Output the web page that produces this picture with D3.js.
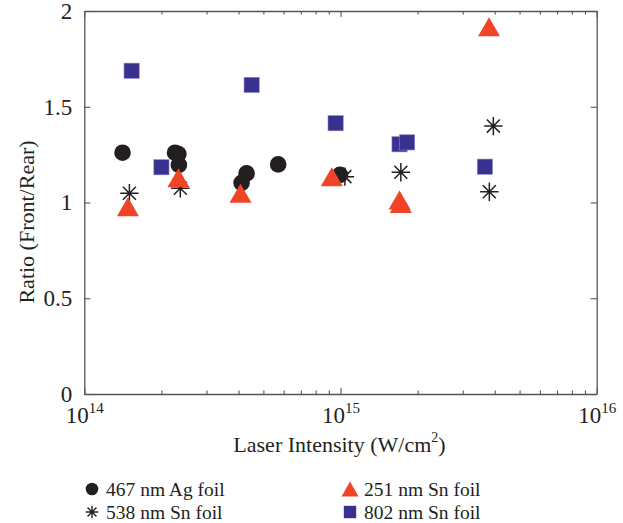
<!DOCTYPE html>
<html><head><meta charset="utf-8">
<script src="https://cdn.jsdelivr.net/npm/d3@7"></script>
<style>
body{margin:0;background:#fff}
svg{display:block}
text{font-family:"Liberation Serif","DejaVu Serif",serif;fill:#231f20}
</style>
</head><body>
<svg id="c" width="623" height="523"></svg>
<script>
// ---- data ----
const agIntensity   = [1.41e14, 2.26e14, 2.33e14, 2.34e14, 4.30e14, 4.11e14, 5.71e14, 9.95e14];
const agRatio       = [1.260, 1.260, 1.253, 1.196, 1.152, 1.103, 1.199, 1.144];
const sn538Intensity = [1.50e14, 2.37e14, 1.04e15, 1.72e15, 3.95e15, 3.81e15];
const sn538Ratio     = [1.048, 1.074, 1.135, 1.158, 1.399, 1.056];
const sn251Intensity = [1.48e14, 2.33e14, 4.07e14, 9.25e14, 1.70e15, 1.72e15, 3.80e15];
const sn251Ratio     = [0.978, 1.129, 1.048, 1.135, 1.013, 0.995, 1.918];
const sn802Intensity = [1.53e14, 2.00e14, 4.50e14, 9.57e14, 1.70e15, 1.82e15, 3.66e15];
const sn802Ratio     = [1.688, 1.184, 1.614, 1.414, 1.304, 1.314, 1.187];

const xMajorTicks = [1e14, 1e15, 1e16];
const xTickExp = ["14", "15", "16"];
const yTicks = [0, 0.5, 1, 1.5, 2];
const legendLabels = ["467 nm Ag foil", "538 nm Sn foil", "251 nm Sn foil", "802 nm Sn foil"];
const xLabel = "Laser Intensity (W/cm";
const yLabel = "Ratio (Front/Rear)";

// ---- layout ----
const L = 84.3, R = 596.7, T = 11, B = 394;
const COL = {ag:"#231f20", star:"#231f20", tri:"#ef4426", sq:"#38318f", axis:"#555555"};
const FONT_TICK = 23, FONT_LAB = 22, FONT_LEG = 19.5;

const svg = d3.select("#c");
const x = d3.scaleLog().domain([1e14, 1e16]).range([L, R]);
const y = d3.scaleLinear().domain([0, 2]).range([B, T]);

const minorTicks = [];
[1e14, 1e15].forEach(d => { for (let k = 2; k <= 9; k++) minorTicks.push(d * k); });

// ---- axes (box with inward ticks) ----
function styleAxis(g){
  g.selectAll(".domain").attr("stroke", COL.axis).attr("stroke-width", 1.3);
  g.selectAll(".tick line").attr("stroke", COL.axis).attr("stroke-width", 1.1);
}
// bottom
const gxB = svg.append("g").attr("transform", `translate(0,${B})`)
  .call(d3.axisBottom(x).tickValues(xMajorTicks).tickSizeInner(-6).tickSizeOuter(0).tickPadding(13));
styleAxis(gxB);
gxB.selectAll(".tick text").each(function(d, i){
  const t = d3.select(this).text(null).attr("font-size", FONT_TICK).attr("fill", "#231f20");
  t.append("tspan").text("10");
  t.append("tspan").attr("font-size", 15).attr("dy", -10).text(xTickExp[i]);
});
svg.append("g").attr("transform", `translate(0,${B})`)
  .call(d3.axisBottom(x).tickValues(minorTicks).tickSizeInner(-3.5).tickSizeOuter(0).tickFormat(""))
  .call(g => { g.select(".domain").remove(); styleAxis(g); });
// top
const gxT = svg.append("g").attr("transform", `translate(0,${T})`)
  .call(d3.axisTop(x).tickValues(xMajorTicks).tickSizeInner(-6).tickSizeOuter(0).tickFormat(""));
styleAxis(gxT);
svg.append("g").attr("transform", `translate(0,${T})`)
  .call(d3.axisTop(x).tickValues(minorTicks).tickSizeInner(-3.5).tickSizeOuter(0).tickFormat(""))
  .call(g => { g.select(".domain").remove(); styleAxis(g); });
// left
const gyL = svg.append("g").attr("transform", `translate(${L},0)`)
  .call(d3.axisLeft(y).tickValues(yTicks).tickSizeInner(-6).tickSizeOuter(0).tickPadding(12).tickFormat(d3.format("~g")));
styleAxis(gyL);
gyL.selectAll(".tick text").attr("font-size", FONT_TICK).attr("fill", "#231f20").attr("font-family", "Liberation Serif");
// right
const gyR = svg.append("g").attr("transform", `translate(${R},0)`)
  .call(d3.axisRight(y).tickValues(yTicks).tickSizeInner(-6).tickSizeOuter(0).tickFormat(""));
styleAxis(gyR);

// ---- axis labels ----
const xl = svg.append("text").attr("x", (L + R) / 2 - 1).attr("y", 452)
  .attr("text-anchor", "middle").attr("font-size", FONT_LAB);
xl.append("tspan").text(xLabel);
xl.append("tspan").attr("font-size", 14).attr("dy", -10).text("2");
xl.append("tspan").attr("dy", 10).text(")");

svg.append("text").attr("transform", `translate(34,222) rotate(-90)`)
  .attr("text-anchor", "middle").attr("font-size", FONT_LAB).text(yLabel);

// ---- marker shapes ----
function triPath(w, h){ return `M0,${-h/2}L${w/2},${h/2}L${-w/2},${h/2}Z`; }
function starPath(r){
  const d = r * Math.SQRT1_2;
  return `M${-r},0L${r},0M0,${-r}L0,${r}M${-d},${-d}L${d},${d}M${-d},${d}L${d},${-d}`;
}
const zip = (a, b) => a.map((v, i) => [v, b[i]]);

const plot = svg.append("g");
// circles
plot.selectAll("circle.ag").data(zip(agIntensity, agRatio)).join("circle")
  .attr("cx", d => x(d[0])).attr("cy", d => y(d[1])).attr("r", 8.3).attr("fill", COL.ag);
// asterisks
plot.selectAll("path.star").data(zip(sn538Intensity, sn538Ratio)).join("path")
  .attr("transform", d => `translate(${x(d[0])},${y(d[1])})`)
  .attr("d", starPath(9.2)).attr("stroke", COL.star).attr("stroke-width", 1.5).attr("fill", "none");
// triangles
plot.selectAll("path.tri").data(zip(sn251Intensity, sn251Ratio)).join("path")
  .attr("transform", d => `translate(${x(d[0])},${y(d[1])})`)
  .attr("d", triPath(22, 19)).attr("fill", COL.tri);
// squares
plot.selectAll("rect.sq").data(zip(sn802Intensity, sn802Ratio)).join("rect")
  .attr("x", d => x(d[0]) - 7.6).attr("y", d => y(d[1]) - 7.6)
  .attr("width", 15.2).attr("height", 15.2).attr("fill", COL.sq)
  .attr("stroke", "#8a85c4").attr("stroke-width", 0.6);

// ---- legend ----
const leg = svg.append("g");
const legPos = [[92, 489], [92, 512], [350, 489], [350, 512]];
leg.append("circle").attr("cx", legPos[0][0]).attr("cy", legPos[0][1]).attr("r", 6.3).attr("fill", COL.ag);
leg.append("path").attr("transform", `translate(${legPos[1][0]},${legPos[1][1]})`)
  .attr("d", starPath(6.3)).attr("stroke", COL.star).attr("stroke-width", 1.4).attr("fill", "none");
leg.append("path").attr("transform", `translate(${legPos[2][0]},${legPos[2][1]})`)
  .attr("d", triPath(17, 15)).attr("fill", COL.tri);
leg.append("rect").attr("x", legPos[3][0] - 6.2).attr("y", legPos[3][1] - 6.2)
  .attr("width", 12.4).attr("height", 12.4).attr("fill", COL.sq);
legendLabels.forEach((t, i) => {
  leg.append("text").attr("x", legPos[i][0] + 14).attr("y", legPos[i][1])
    .attr("dy", "0.35em").attr("font-size", FONT_LEG).text(t);
});
</script>
</body></html>
